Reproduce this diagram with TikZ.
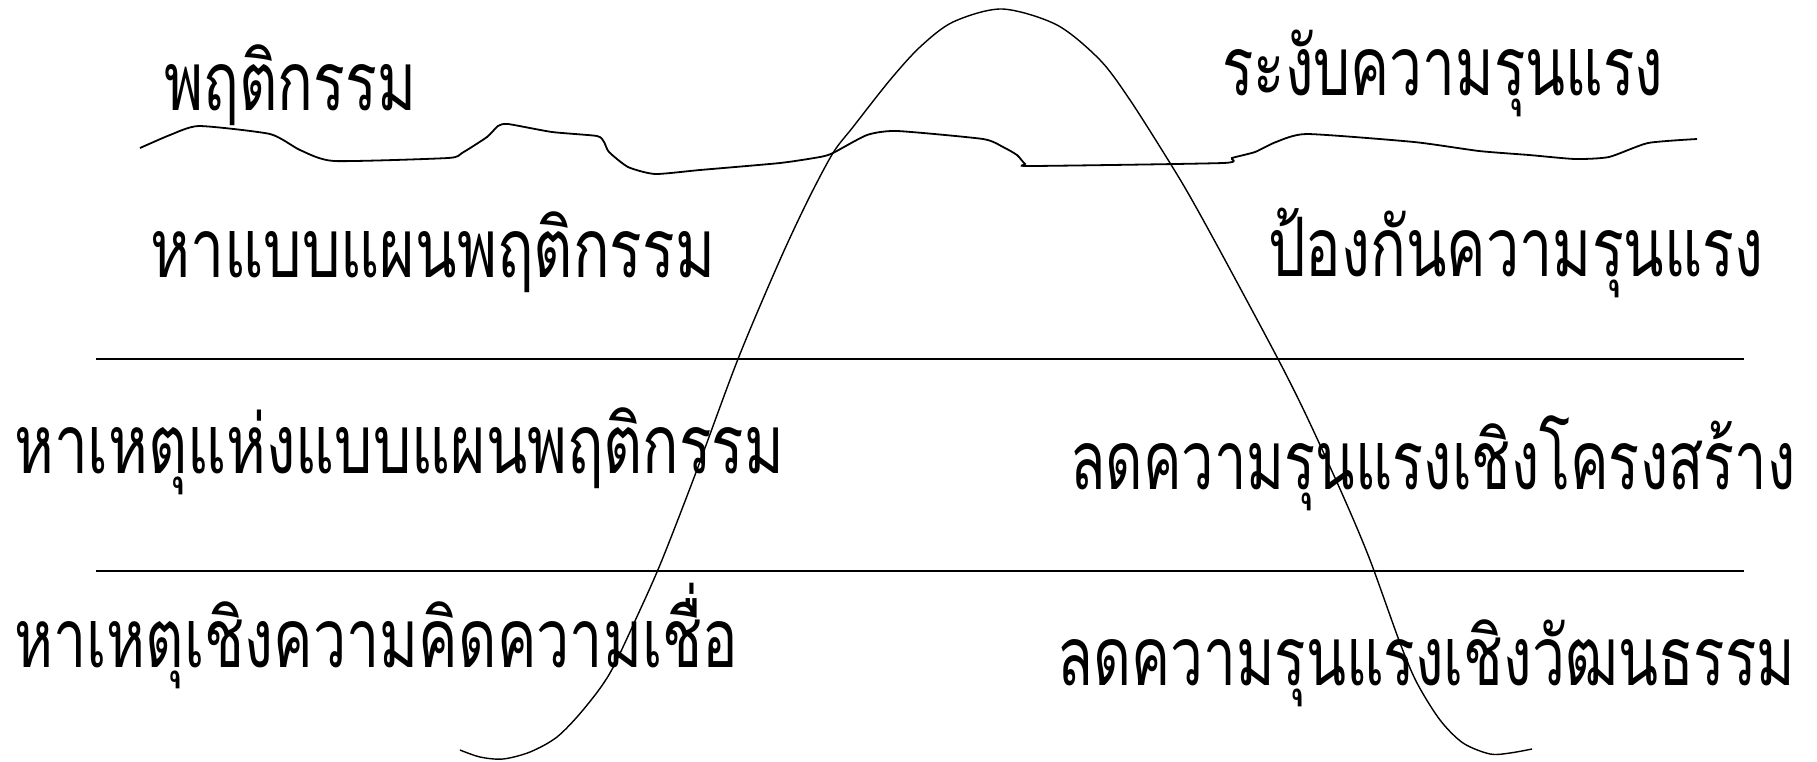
\documentclass[tikz,border=0pt]{standalone}
\usepackage{fontspec}
\usepackage{graphicx}
\newfontfamily\thaifont[Script=Thai,FakeStretch=0.79]{Loma}
\newcommand{\fitw}[2]{\resizebox{#1pt}{\height}{#2}}
\begin{document}
\begin{tikzpicture}[x=1pt,y=-1pt,
  lbl/.style={anchor=base west,inner sep=0pt,font=\thaifont\fontsize{82}{88}\selectfont},
  sepline/.style={line width=1.8pt},
  wave/.style={line width=1.8pt},
  bell/.style={line width=1.4pt}]
\useasboundingbox (0,0) rectangle (1817,761);
\node[lbl] (t1) at (164,110) {\fitw{252}{พฤติกรรม}};
\node[lbl] (t2) at (1222,95) {\fitw{441}{ระงับความรุนแรง}};
\node[lbl] (t3) at (150,277) {\fitw{565}{หาแบบแผนพฤติกรรม}};
\node[lbl] (t4) at (1268,276) {\fitw{495}{ป้องกันความรุนแรง}};
\node[lbl] (t5) at (14,473) {\fitw{770}{หาเหตุแห่งแบบแผนพฤติกรรม}};
\node[lbl] (t6) at (1070,489) {\fitw{725}{ลดความรุนแรงเชิงโครงสร้าง}};
\node[lbl] (t7) at (14,667) {\fitw{724}{หาเหตุเชิงความคิดความเชื่อ}};
\node[lbl] (t8) at (1057,685) {\fitw{738}{ลดความรุนแรงเชิงวัฒนธรรม}};
\coordinate (l1a) at (96,359); \coordinate (l1b) at (1744,359);
\coordinate (l2a) at (96,571); \coordinate (l2b) at (1744,571);
\draw[sepline] (l1a) -- (l1b);
\draw[sepline] (l2a) -- (l2b);
\draw[wave] plot[smooth,tension=0.35] coordinates {(140,148) (170,135) (199,126) (270,134) (300,150) (334,161) (448,158) (462,153) (487,137) (498,126) (508,124) (552,132) (597,136) (604,142) (609,152) (628,167) (655,174) (700,170) (780,163) (820,157) (833,153) (867,135) (897,131) (983,139) (1003,147) (1017,155) (1025,164) (1032,166) (1223,163) (1232,158) (1255,152) (1276,142) (1307,134) (1414,142) (1479,151) (1529,155) (1575,159) (1609,157) (1648,143) (1697,139)};
\draw[bell] plot[smooth,tension=0.5] coordinates {(460,750) (480,757) (503,759) (530,752) (557,737) (583,710) (610,673) (640,610) (662,560) (695,475) (738,359) (779,262) (808,200) (833,153) (853,127) (890,80) (920,47) (953,22) (1002,9) (1057,25) (1100,60) (1130,100) (1170,163) (1192,200) (1225,260) (1278,359) (1307,417) (1344,498) (1370,560) (1400,643) (1417,683) (1440,720) (1463,743) (1490,754) (1510,753) (1532,749)};
\end{tikzpicture}
\end{document}
